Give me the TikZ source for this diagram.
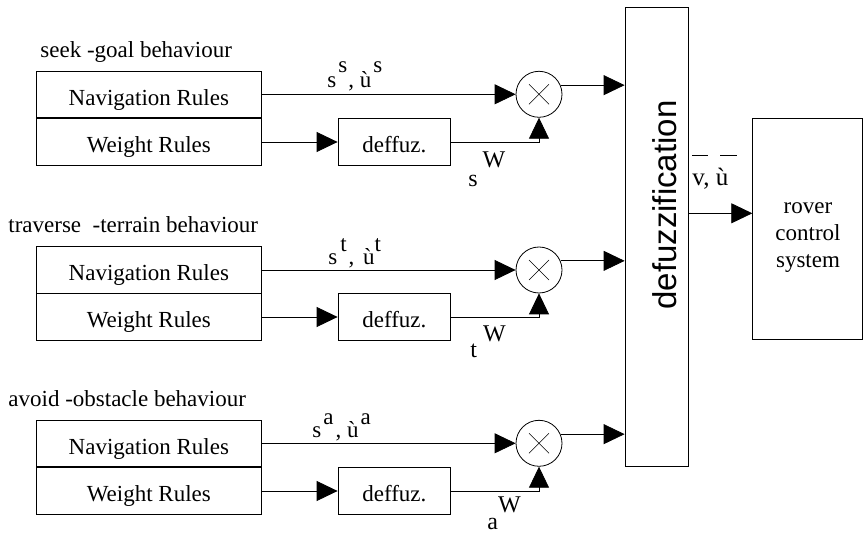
\documentclass[tikz,border=0pt]{standalone}
\usepackage{fontspec}
\setmainfont{Liberation Serif}
\newfontfamily\arialf{Liberation Sans}
\usetikzlibrary{arrows.meta,calc}
\begin{document}
\begin{tikzpicture}[x=1pt,y=-1pt, line width=0.8pt,
  every node/.style={font=\fontsize{23}{27}\selectfont},
  rulebox/.style={draw, minimum width=224.3pt, minimum height=46.5pt, inner sep=0pt, text height=22pt, text depth=0pt},
  dfbox/.style={draw, minimum width=112.7pt, minimum height=47pt, inner sep=0pt, text height=22pt, text depth=0pt},
  mult/.style={draw, circle, minimum size=46pt, inner sep=0pt,
    path picture={\draw[line width=0.6pt]
      ([shift={(-10pt,-10pt)}]path picture bounding box.center) -- ([shift={(10pt,10pt)}]path picture bounding box.center)
      ([shift={(-10pt,10pt)}]path picture bounding box.center) -- ([shift={(10pt,-10pt)}]path picture bounding box.center);}},
  arr/.style={-{Triangle[length=21pt,width=20pt]}},
  lbl/.style={anchor=base west, inner sep=0pt, font=\fontsize{23}{27}\selectfont},
  wlbl/.style={anchor=base west, inner sep=0pt, font=\fontsize{24}{28}\selectfont},
  title/.style={anchor=base west, inner sep=0pt}
]
\useasboundingbox (0,0) rectangle (863,534);

% titles
\node[title] (t1) at (40,58) {seek -goal behaviour};
\node[title] (t2) at (8,233) {traverse\ \ -terrain behaviour};
\node[title] (t3) at (8,407) {avoid -obstacle behaviour};

% rule boxes
\node[rulebox] (nav1) at (148.85,94.3) {Navigation Rules};
\node[rulebox] (wr1) at (148.85,142) {Weight Rules};
\node[rulebox] (nav2) at (148.85,270) {Navigation Rules};
\node[rulebox] (wr2) at (148.85,317) {Weight Rules};
\node[rulebox] (nav3) at (148.85,443.3) {Navigation Rules};
\node[rulebox] (wr3) at (148.85,491) {Weight Rules};

% deffuz boxes
\node[dfbox] (d1) at (394.35,142) {deffuz.};
\node[dfbox] (d2) at (394.35,317) {deffuz.};
\node[dfbox] (d3) at (394.35,491) {deffuz.};

% multipliers
\node[mult] (c1) at (539,94.3) {};
\node[mult] (c2) at (539,270) {};
\node[mult] (c3) at (539,443.3) {};

% defuzzification block
\node[draw, minimum width=63pt, minimum height=459.4pt, inner sep=0pt] (df) at (656.5,237) {};
\node[font=\arialf\fontsize{33}{37}\selectfont, rotate=90, inner sep=0pt] (dftxt) at (665,205) {defuzzification};

% rover block
\node[draw, minimum width=109.3pt, minimum height=221pt, inner sep=0pt] (rover) at (807.35,228.5) {};
\node[align=center, inner sep=0pt] (rovtxt) at (808,238) {rover\\control\\system};

% connectors
\foreach \i in {1,2,3}{
  \draw[arr] (nav\i.east) -- (c\i.west);
  \draw[arr] (wr\i.east) -- (d\i.west);
  \draw[arr] (d\i.east) -| (c\i.south);
  \draw[arr] (c\i.23) -- (c\i.23 -| df.west);
}
\draw[arr] ([yshift=23.7pt]df.east) -- ([yshift=23.7pt]df.east -| rover.west);

% labels
\node[lbl] (l1) at (327,88) {s\hspace{2pt}\raisebox{15pt}{s}\hspace{1pt}, ù\hspace{2pt}\raisebox{15pt}{s}};
\node[lbl] (l2) at (328,265) {s\hspace{3pt}\raisebox{13pt}{t}\hspace{2pt}, \hspace{3pt}ù\raisebox{13pt}{t}};
\node[lbl] (l3) at (312,438) {s\hspace{2pt}\raisebox{13pt}{a}\hspace{2pt}, ù\hspace{2pt}\raisebox{13pt}{a}};

\node[wlbl] (w1) at (468,187) {s\hspace{5pt}\raisebox{19pt}{W}};
\node[wlbl] (w2) at (470,358) {t\hspace{6pt}\raisebox{16pt}{W}};
\node[wlbl] (w3) at (487,529.5) {a\raisebox{17pt}{W}};

\node[anchor=base west, inner sep=0pt, font=\fontsize{25}{29}\selectfont] (vu) at (692,186) {v, ù};
\draw ($(vu.base west)+(0,-31)$) -- ++(16,0);
\draw ($(vu.base west)+(28,-31)$) -- ++(17,0);
\end{tikzpicture}
\end{document}
